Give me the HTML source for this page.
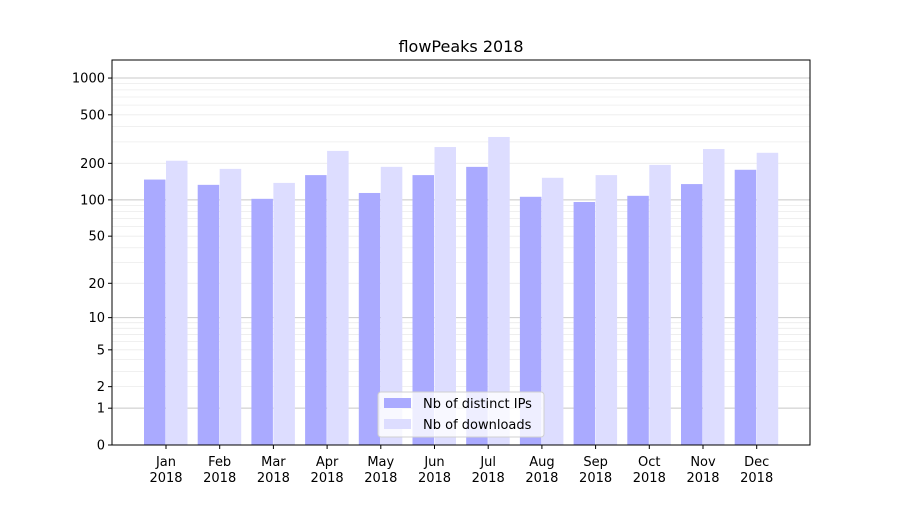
<!DOCTYPE html>
<html><head><meta charset="utf-8"><style>body{margin:0;background:#fff}svg{font-family:"DejaVu Sans","Liberation Sans",sans-serif}</style></head>
<body>
<svg id="c" width="900" height="500"></svg>
<script>
const categories=["Jan","Feb","Mar","Apr","May","Jun","Jul","Aug","Sep","Oct","Nov","Dec"];
const ipsValues=[147,133,102,160,114,160,187,106,96,108,135,177];
const downloadValues=[210,180,138,253,187,272,329,152,160,194,262,244];
const tickValues=[0,1,2,5,10,20,50,100,200,500,1000];
const tickLabels=["0","1","2","5","10","20","50","100","200","500","1000"];
const NS="http://www.w3.org/2000/svg";
const svg=document.getElementById('c');
const L=112,R=810,T=60,B=445;
function y(v){return B-122.3*Math.log10(1+v);}
function x(i){return 166+i*53.7;}
function el(t,a,p){const e=document.createElementNS(NS,t);for(const k in a)e.setAttribute(k,a[k]);(p||svg).appendChild(e);return e;}
// grid
for(let d=1;d<=1000;d*=10){for(let m=1;m<10;m++){const v=d*m;if(v>1000)break;const g=el('line',{x1:L,x2:R,y1:y(v),y2:y(v),stroke:m==1?'#c8c8c8':'#ececec','stroke-width':m==1?1:0.8});

}}
// bars
categories.forEach((c,i)=>{
const b1=el('rect',{x:x(i)-22,y:y(ipsValues[i]),width:21.5,height:B-y(ipsValues[i]),fill:'#aaaaff'});


const b2=el('rect',{x:x(i),y:y(downloadValues[i]),width:21.5,height:B-y(downloadValues[i]),fill:'#ddddff'});


el('line',{x1:x(i),x2:x(i),y1:B,y2:B+4,stroke:'#000'});
const t=el('text',{x:x(i),y:B+21,'text-anchor':'middle','font-size':13});t.textContent=c;


const t2=el('text',{x:x(i),y:B+37,'text-anchor':'middle','font-size':13});t2.textContent='2018';


});
// y ticks
tickValues.forEach((v,i)=>{el('line',{x1:L-4,x2:L,y1:y(v),y2:y(v),stroke:'#000'});
const t=el('text',{x:L-7,y:y(v)+4.5,'text-anchor':'end','font-size':13});t.textContent=tickLabels[i];

});
const ax=el('rect',{x:L,y:T,width:R-L,height:B-T,fill:'none',stroke:'#000','stroke-width':1});


const ti=el('text',{x:461,y:52,'text-anchor':'middle','font-size':16});ti.textContent='flowPeaks 2018';


// legend
const lg=el('g',{});


el('rect',{x:378,y:392,width:166,height:45,rx:3,fill:'rgba(255,255,255,0.8)',stroke:'#d0d0d0'},lg);
el('rect',{x:384,y:398,width:27,height:10,fill:'#aaaaff'},lg);
el('rect',{x:384,y:419,width:27,height:10,fill:'#ddddff'},lg);
const l1=el('text',{x:423,y:408,'font-size':13},lg);l1.textContent='Nb of distinct IPs';
const l2=el('text',{x:423,y:429,'font-size':13},lg);l2.textContent='Nb of downloads';
</script>
</body></html>
